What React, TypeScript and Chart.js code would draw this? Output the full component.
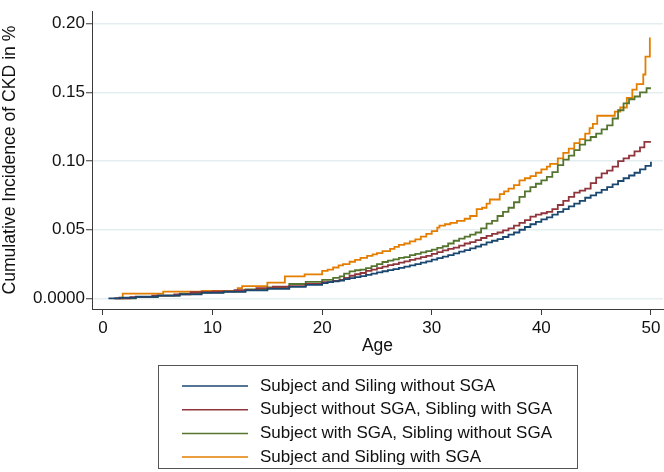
import React, { useEffect, useRef } from "react";
import { Chart, registerables } from "chart.js";

Chart.register(...registerables);

// ---- Data ----
const seriesLabels = [
  "Subject and Siling without SGA",
  "Subject without SGA, Sibling with SGA",
  "Subject with SGA, Sibling without SGA",
  "Subject and Sibling with SGA",
];

const seriesColors = ["#1a476f", "#90353b", "#55752f", "#e37e00"];

const blueAges = [0.5, 1.5, 3, 5, 7, 9, 11, 13, 15, 17, 18.5, 20, 20.5, 21, 21.5, 22, 22.5, 23, 23.5, 24, 24.5, 25, 25.5, 26, 26.5, 27, 27.5, 28, 28.5, 29, 29.5, 30, 30.5, 31, 31.5, 32, 32.5, 33, 33.5, 34, 34.5, 35, 35.5, 36, 36.5, 37, 37.5, 38, 38.5, 39, 39.5, 40, 40.5, 41, 41.5, 42, 42.5, 43, 43.5, 44, 44.5, 45, 45.5, 46, 46.5, 47, 47.5, 48, 48.5, 49, 49.5, 50];
const blueValues = [0, 0.0005, 0.0012, 0.002, 0.003, 0.004, 0.0048, 0.0058, 0.007, 0.0084, 0.0098, 0.0112, 0.0118, 0.0124, 0.013, 0.014, 0.0148, 0.0155, 0.0163, 0.0172, 0.018, 0.019, 0.0198, 0.0206, 0.0214, 0.0222, 0.0232, 0.0241, 0.025, 0.026, 0.027, 0.0282, 0.0293, 0.0304, 0.0315, 0.0328, 0.034, 0.0352, 0.0365, 0.0378, 0.0392, 0.0408, 0.042, 0.0432, 0.0447, 0.0465, 0.048, 0.05, 0.052, 0.054, 0.0557, 0.0575, 0.059, 0.061, 0.063, 0.065, 0.067, 0.069, 0.071, 0.0733, 0.075, 0.077, 0.079, 0.081, 0.083, 0.0855, 0.0875, 0.0895, 0.0915, 0.094, 0.0965, 0.0995];

const redAges = [1.0, 2.5, 4.5, 6.5, 8, 10, 12, 14, 15.5, 17, 18.5, 20, 21, 21.6, 22, 22.5, 23, 23.5, 24, 24.5, 25, 25.5, 26, 26.5, 27, 27.5, 28, 28.5, 29, 29.5, 30, 30.5, 31, 31.5, 32, 32.5, 33, 33.5, 34, 34.5, 35, 35.5, 36, 36.5, 37, 37.5, 38, 38.5, 39, 39.5, 40, 40.5, 41, 41.5, 42, 42.5, 43, 43.5, 44, 44.5, 45, 45.5, 46, 46.5, 47, 47.5, 48, 48.5, 49, 49.4, 50];
const redValues = [0, 0.001, 0.002, 0.003, 0.0045, 0.0052, 0.006, 0.0075, 0.0085, 0.009, 0.0105, 0.0118, 0.0128, 0.0135, 0.015, 0.0165, 0.0176, 0.0185, 0.02, 0.021, 0.022, 0.0232, 0.0242, 0.025, 0.026, 0.027, 0.028, 0.029, 0.03, 0.031, 0.0325, 0.0337, 0.035, 0.036, 0.037, 0.0385, 0.04, 0.041, 0.0425, 0.044, 0.0455, 0.047, 0.048, 0.0495, 0.051, 0.053, 0.055, 0.057, 0.0595, 0.061, 0.062, 0.063, 0.065, 0.068, 0.071, 0.074, 0.077, 0.0785, 0.08, 0.084, 0.088, 0.091, 0.093, 0.096, 0.1, 0.102, 0.104, 0.107, 0.11, 0.114, 0.114];

const greenAges = [1.5, 3, 5, 7, 9, 11, 13, 15, 17, 18.5, 20, 21, 21.6, 22, 22.5, 23, 23.5, 24, 24.5, 25, 25.5, 26, 26.5, 27, 27.5, 28, 28.5, 29, 29.5, 30, 30.5, 31, 31.5, 32, 32.5, 33, 33.5, 34, 34.5, 35, 35.5, 36, 36.5, 37, 37.5, 38, 38.5, 39, 39.5, 40, 40.5, 41, 41.5, 42, 42.5, 43, 43.5, 44, 44.5, 45, 45.5, 46, 46.5, 47, 47.5, 48, 48.5, 49, 49.6, 50];
const greenValues = [0, 0.001, 0.002, 0.0035, 0.0045, 0.0052, 0.0065, 0.008, 0.0105, 0.012, 0.0135, 0.015, 0.016, 0.018, 0.0197, 0.0205, 0.021, 0.022, 0.0235, 0.025, 0.0265, 0.0275, 0.0285, 0.0295, 0.03, 0.0315, 0.0325, 0.0335, 0.0345, 0.0355, 0.0368, 0.038, 0.04, 0.042, 0.0435, 0.045, 0.0465, 0.048, 0.051, 0.0545, 0.0565, 0.06, 0.063, 0.066, 0.07, 0.074, 0.078, 0.081, 0.0835, 0.086, 0.0885, 0.092, 0.097, 0.101, 0.104, 0.108, 0.112, 0.115, 0.1175, 0.12, 0.123, 0.126, 0.131, 0.137, 0.142, 0.145, 0.147, 0.15, 0.153, 0.153];

const orangeAges = [1.1, 1.8, 5.5, 9, 12.3, 12.7, 15, 16.6, 18.4, 20, 20.5, 21, 21.5, 21.9, 22.5, 23, 23.5, 24.1, 24.6, 25, 25.5, 26.2, 26.6, 27, 27.5, 28, 28.5, 29, 29.5, 30, 30.5, 30.7, 31.2, 31.7, 32.3, 33, 33.5, 34.1, 34.6, 35, 35.3, 36.2, 36.6, 37, 37.5, 38, 38.5, 39, 39.5, 40, 40.5, 40.8, 41.5, 42, 42.5, 43, 43.5, 44, 44.4, 44.7, 45.1, 46.7, 47.2, 47.8, 48.3, 48.7, 49.3, 49.5, 49.9];
const orangeValues = [0, 0.0035, 0.0049, 0.0055, 0.0075, 0.009, 0.0115, 0.016, 0.0175, 0.02, 0.021, 0.0225, 0.024, 0.025, 0.0267, 0.028, 0.0295, 0.031, 0.032, 0.033, 0.0345, 0.036, 0.0375, 0.039, 0.04, 0.0415, 0.043, 0.045, 0.047, 0.049, 0.0515, 0.053, 0.054, 0.055, 0.0565, 0.058, 0.06, 0.065, 0.066, 0.069, 0.072, 0.076, 0.078, 0.08, 0.0825, 0.086, 0.0875, 0.089, 0.0915, 0.094, 0.096, 0.098, 0.102, 0.106, 0.109, 0.113, 0.116, 0.12, 0.124, 0.127, 0.133, 0.136, 0.139, 0.146, 0.152, 0.156, 0.163, 0.176, 0.19];

const xTickValues = [0, 10, 20, 30, 40, 50];
const yTickValues = [0, 0.05, 0.1, 0.15, 0.2];
const yTickLabels = ["0.0000", "0.05", "0.10", "0.15", "0.20"];

const xTitle = "Age";
const yTitle = "Cumulative Incidence of CKD in %";

// ---- helpers ----
const toPoints = (ages: number[], values: number[]) =>
  ages.map((a, i) => ({ x: a, y: values[i] }));

const FONT = '"Liberation Sans", Arial, sans-serif';
const AXIS_COLOR = "#3a3a3a";
const GRID_COLOR = "#e4edef";

const boxLegend = {
  id: "boxLegend",
  afterDraw(chart: any) {
    const ctx = chart.ctx;
    ctx.save();
    ctx.strokeStyle = "#555";
    ctx.lineWidth = 1;
    ctx.strokeRect(158.5, 365.5, 419, 103);
    ctx.font = `17px ${FONT}`;
    ctx.textBaseline = "middle";
    ctx.textAlign = "left";
    chart.data.datasets.forEach((ds: any, i: number) => {
      const y = 386 + i * 23.7;
      ctx.strokeStyle = ds.borderColor;
      ctx.lineWidth = 1.5;
      ctx.beginPath();
      ctx.moveTo(182, y);
      ctx.lineTo(248, y);
      ctx.stroke();
      ctx.fillStyle = "#111";
      ctx.fillText(ds.label, 260, y);
    });
    ctx.restore();
  },
};

export default function App() {
  const canvasRef = useRef<HTMLCanvasElement | null>(null);

  useEffect(() => {
    document.body.style.margin = "0";
    const canvas = canvasRef.current;
    if (!canvas) return;

    const allSeries = [
      toPoints(blueAges, blueValues),
      toPoints(redAges, redValues),
      toPoints(greenAges, greenValues),
      toPoints(orangeAges, orangeValues),
    ];

    const chart = new Chart(canvas, {
      type: "line",
      data: {
        datasets: allSeries.map((pts, i) => ({
          label: seriesLabels[i],
          data: pts,
          borderColor: seriesColors[i],
          backgroundColor: seriesColors[i],
          borderWidth: 1.8,
          pointRadius: 0,
          stepped: true,
          fill: false,
        })),
      },
      options: {
        animation: false,
        responsive: false,
        devicePixelRatio: 1,
        layout: { padding: { left: 0, right: 1, top: 0, bottom: 0 } },
        plugins: {
          legend: { display: false },
          tooltip: { enabled: false },
        },
        scales: {
          x: {
            type: "linear",
            min: -1.0,
            max: 51.1,
            afterBuildTicks: (scale: any) => {
              scale.ticks = xTickValues.map((v) => ({ value: v }));
            },
            afterFit: (scale: any) => {
              scale.height = 163;
            },
            ticks: {
              color: "#111",
              font: { family: FONT, size: 17 },
              padding: 3,
              maxRotation: 0,
              autoSkip: false,
              callback: (v: any) => String(v),
            },
            grid: {
              display: true,
              drawOnChartArea: false,
              drawTicks: true,
              tickLength: 6,
              tickColor: AXIS_COLOR,
              tickWidth: 1,
            },
            border: { display: true, color: AXIS_COLOR, width: 1 },
            title: {
              display: true,
              text: xTitle,
              color: "#111",
              font: { family: FONT, size: 17.5 },
              padding: { top: 0, bottom: 115 },
            },
          },
          y: {
            type: "linear",
            min: -0.0077,
            max: 0.2091,
            afterBuildTicks: (scale: any) => {
              scale.ticks = yTickValues.map((v) => ({ value: v }));
            },
            afterFit: (scale: any) => {
              scale.width = 92;
            },
            ticks: {
              color: "#111",
              font: { family: FONT, size: 17 },
              padding: 1,
              autoSkip: false,
              callback: (_v: any, idx: number) => yTickLabels[idx],
            },
            grid: {
              display: true,
              drawOnChartArea: true,
              drawTicks: true,
              tickLength: 6,
              color: GRID_COLOR,
              lineWidth: 1.5,
              tickColor: AXIS_COLOR,
              tickWidth: 1,
            },
            border: { display: true, color: AXIS_COLOR, width: 1 },
            title: {
              display: true,
              text: yTitle,
              color: "#111",
              font: { family: FONT, size: 17.6 },
              padding: { top: 0, bottom: 0 },
            },
          },
        },
      },
      plugins: [boxLegend],
    });

    return () => {
      chart.destroy();
    };
  }, []);

  return (
    <div style={{ width: 664, height: 472, background: "#fff" }}>
      <canvas ref={canvasRef} width={664} height={472} />
    </div>
  );
}
